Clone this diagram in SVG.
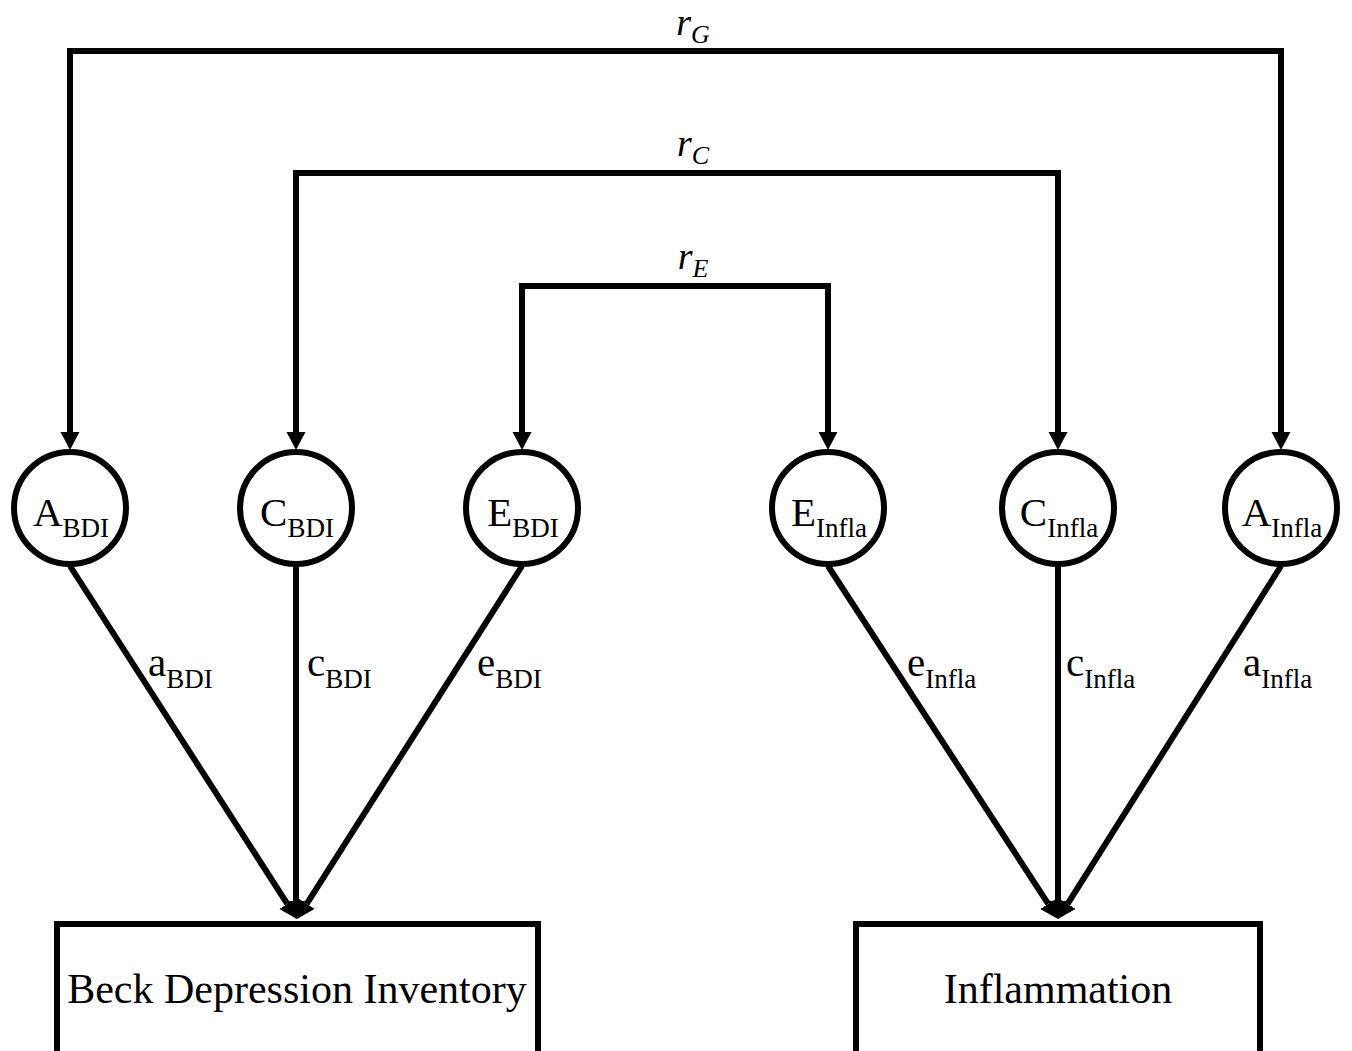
<svg xmlns="http://www.w3.org/2000/svg" width="1352" height="1051" viewBox="0 0 1352 1051">
<style>
.ln{fill:none;stroke:#000;stroke-width:6;stroke-linejoin:miter;stroke-linecap:butt}
.nd{fill:#fff;stroke:#000;stroke-width:6}
.t{font-family:"Liberation Serif","Times New Roman",serif;fill:#000}
.big{font-size:41px}
.sub{font-size:27px}
.lab{font-size:41px}
.box{font-size:42px}
.r{font-family:"Liberation Serif","Times New Roman",serif;font-style:italic;font-size:38px}
.rs{font-size:26px}
</style>
<defs>
<marker id="ah" markerUnits="userSpaceOnUse" markerWidth="20" markerHeight="20" refX="0" refY="9.5" orient="auto-start-reverse">
<path d="M0,0 L18,9.5 L0,19 z" fill="#000"/>
</marker>
</defs>
<rect width="1352" height="1051" fill="#fff"/>
<g id="connectors">
<path class="ln" d="M70,432 V51 H1281 V432" marker-start="url(#ah)" marker-end="url(#ah)"/>
<path class="ln" d="M296,432 V173 H1058 V432" marker-start="url(#ah)" marker-end="url(#ah)"/>
<path class="ln" d="M522,432 V286 H828 V432" marker-start="url(#ah)" marker-end="url(#ah)"/>
<line class="ln" x1="70" y1="566" x2="287.3" y2="903.9" marker-end="url(#ah)"/>
<line class="ln" x1="296" y1="566" x2="296" y2="901" marker-end="url(#ah)"/>
<line class="ln" x1="522" y1="566" x2="306.7" y2="903.8" marker-end="url(#ah)"/>
<line class="ln" x1="828" y1="566" x2="1048.2" y2="903.9" marker-end="url(#ah)"/>
<line class="ln" x1="1058" y1="566" x2="1058" y2="901" marker-end="url(#ah)"/>
<line class="ln" x1="1281" y1="566" x2="1067.6" y2="903.8" marker-end="url(#ah)"/>
<text class="r" x="693" y="35" text-anchor="middle">r<tspan class="rs" dy="8">G</tspan></text>
<text class="r" x="693" y="156" text-anchor="middle">r<tspan class="rs" dy="8">C</tspan></text>
<text class="r" x="693" y="269" text-anchor="middle">r<tspan class="rs" dy="8">E</tspan></text>
<text class="t lab" x="148" y="676">a<tspan class="sub" dy="12">BDI</tspan></text>
<text class="t lab" x="307" y="676">c<tspan class="sub" dy="12">BDI</tspan></text>
<text class="t lab" x="477" y="676">e<tspan class="sub" dy="12">BDI</tspan></text>
<text class="t lab" x="907" y="676">e<tspan class="sub" dy="12">Infla</tspan></text>
<text class="t lab" x="1066" y="676">c<tspan class="sub" dy="12">Infla</tspan></text>
<text class="t lab" x="1243" y="676">a<tspan class="sub" dy="12">Infla</tspan></text>
</g>
<g id="A_BDI"><circle class="nd" cx="70" cy="508" r="56"/><text class="t big" x="71" y="526" text-anchor="middle">A<tspan class="sub" dy="11">BDI</tspan></text></g>
<g id="C_BDI"><circle class="nd" cx="296" cy="508" r="56"/><text class="t big" x="297" y="526" text-anchor="middle">C<tspan class="sub" dy="11">BDI</tspan></text></g>
<g id="E_BDI"><circle class="nd" cx="522" cy="508" r="56"/><text class="t big" x="523" y="526" text-anchor="middle">E<tspan class="sub" dy="11">BDI</tspan></text></g>
<g id="E_Infla"><circle class="nd" cx="828" cy="508" r="56"/><text class="t big" x="829" y="526" text-anchor="middle">E<tspan class="sub" dy="11">Infla</tspan></text></g>
<g id="C_Infla"><circle class="nd" cx="1058" cy="508" r="56"/><text class="t big" x="1059" y="526" text-anchor="middle">C<tspan class="sub" dy="11">Infla</tspan></text></g>
<g id="A_Infla"><circle class="nd" cx="1281" cy="508" r="56"/><text class="t big" x="1282" y="526" text-anchor="middle">A<tspan class="sub" dy="11">Infla</tspan></text></g>
<g id="BDI"><rect class="nd" x="57" y="924" width="481" height="140"/><text class="t box" x="297" y="1003" text-anchor="middle">Beck Depression Inventory</text></g>
<g id="Inflammation"><rect class="nd" x="856" y="924" width="404" height="140"/><text class="t box" x="1058" y="1003" text-anchor="middle">Inflammation</text></g>
</svg>
